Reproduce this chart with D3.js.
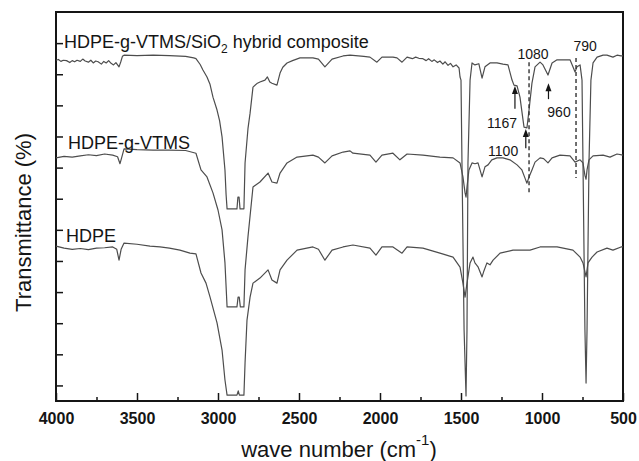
<!DOCTYPE html>
<html>
<head>
<meta charset="utf-8">
<script src="https://cdn.jsdelivr.net/npm/d3@7/dist/d3.min.js"></script>
<style>
  body { margin: 0; background: #fff; }
  svg { display: block; font-family: 'Liberation Sans', Arial, sans-serif; }
</style>
</head>
<body>
<div id="chart"></div>
<script>
'use strict';

var xTicks = [4000, 3500, 3000, 2500, 2000, 1500, 1000, 500];
var xMinorTicks = [3750, 3250, 2750, 2250, 1750, 1250, 750];
var yTicks = [4, 12, 20, 28, 36, 44, 52, 60, 68, 76, 84, 92];

// [wave number, transmittance]
var composite = [
  [4000, 87.6], [3985, 87.8], [3970, 87.3], [3955, 87.6], [3935, 87.5], [3915, 87.0],
  [3900, 87.5], [3885, 87.2], [3870, 87.6], [3850, 87.3], [3835, 87.9], [3820, 87.4],
  [3800, 87.1], [3785, 87.6], [3770, 86.9], [3755, 87.4], [3740, 87.2], [3720, 86.6],
  [3705, 87.3], [3690, 86.9], [3675, 87.5], [3660, 86.8], [3645, 86.4], [3630, 87.0],
  [3611, 85.9], [3600, 87.2], [3590, 88.6], [3580, 88.9],
  [3500, 88.8], [3400, 88.9], [3300, 88.8], [3200, 88.6], [3150, 88.2], [3136, 88.0],
  [3110, 86.5], [3093, 85.1], [3068, 83.3], [3050, 81.5], [3031, 78.1], [3006, 74.8],
  [2990, 72.0], [2975, 67.9], [2957, 59.4], [2950, 53.0], [2944, 49.4], [2883, 49.4],
  [2877, 52.4], [2870, 52.4], [2864, 49.4], [2840, 49.4], [2833, 61.2], [2815, 70.0],
  [2802, 74.0], [2784, 80.7], [2760, 81.6], [2741, 82.0], [2710, 82.5], [2695, 83.3],
  [2680, 82.0], [2667, 81.7], [2636, 81.2], [2617, 84.3], [2600, 85.8], [2574, 86.9],
  [2540, 87.5], [2494, 88.2], [2414, 88.2], [2380, 87.9], [2340, 85.9], [2296, 87.9],
  [2228, 88.7], [2185, 88.9], [2100, 88.6], [2062, 88.4], [2019, 87.1], [1988, 88.4],
  [1920, 88.4], [1895, 88.2], [1864, 87.1], [1833, 88.4], [1800, 88.0], [1780, 88.4],
  [1760, 88.1], [1735, 88.0], [1715, 87.5], [1700, 88.0], [1680, 87.3], [1665, 87.7],
  [1645, 87.0], [1630, 87.4], [1612, 86.6], [1598, 87.2], [1580, 86.3], [1565, 86.8],
  [1549, 85.9], [1530, 86.4], [1512, 85.6],
  [1506, 83.3], [1500, 82.5], [1494, 61.2], [1481, 18.3], [1469, 1.3], [1463, 18.3],
  [1457, 61.2], [1444, 82.5], [1432, 86.9], [1414, 86.4], [1390, 86.7], [1370, 83.0],
  [1352, 85.9], [1321, 86.9], [1278, 86.9], [1241, 86.6], [1210, 86.4], [1185, 82.5],
  [1173, 81.2], [1154, 81.0], [1136, 78.1], [1117, 72.2], [1111, 70.4], [1093, 70.2],
  [1080, 74.8], [1062, 81.7], [1043, 85.9], [1012, 87.1], [994, 86.4], [963, 83.8],
  [938, 86.9], [907, 87.7], [870, 87.7], [827, 87.7], [809, 85.9], [796, 84.6],
  [784, 85.9], [765, 86.4], [753, 82.5], [747, 61.2], [735, 18.3], [728, 4.6],
  [722, 18.3], [710, 61.2], [698, 82.5], [685, 86.9], [660, 88.4], [623, 88.9],
  [599, 88.9], [562, 88.4], [537, 88.9], [512, 88.7], [500, 88.7]
];

var grafted = [
  [4000, 62.5], [3950, 62.9], [3900, 62.7], [3850, 63.0], [3800, 63.3], [3750, 63.1],
  [3700, 63.5], [3650, 63.2], [3620, 62.8], [3605, 61.0], [3595, 62.5], [3580, 64.8],
  [3500, 64.6], [3400, 64.5], [3300, 64.5], [3200, 64.4], [3136, 63.7], [3105, 59.4],
  [3068, 57.6], [3031, 53.5], [3000, 49.1], [2975, 44.0], [2957, 35.5], [2944, 24.2],
  [2883, 24.2], [2876, 26.7], [2869, 26.7], [2862, 24.2], [2840, 24.2], [2833, 33.7],
  [2815, 42.2], [2784, 55.0], [2741, 56.3], [2691, 58.6], [2667, 56.3], [2636, 56.0],
  [2617, 58.6], [2574, 61.2], [2512, 62.7], [2414, 63.2], [2380, 62.7], [2340, 61.2],
  [2296, 63.0], [2228, 64.0], [2185, 64.3], [2167, 63.7], [2062, 63.2], [2025, 61.4],
  [1988, 63.2], [1920, 63.7], [1877, 62.0], [1833, 63.5], [1735, 63.2], [1630, 62.7],
  [1549, 62.5], [1506, 61.2], [1488, 57.6], [1475, 53.5], [1469, 52.4], [1463, 55.0],
  [1451, 59.4], [1432, 61.2], [1414, 61.0], [1395, 61.2], [1370, 57.6], [1352, 60.2],
  [1333, 60.7], [1310, 62.0], [1278, 62.5], [1241, 62.5], [1198, 62.0], [1154, 60.7],
  [1124, 59.4], [1105, 57.3], [1093, 56.0], [1080, 57.6], [1062, 59.4], [1043, 61.4],
  [1012, 62.5], [990, 62.3], [963, 61.2], [938, 62.5], [889, 63.2], [827, 63.0],
  [796, 61.4], [765, 62.0], [747, 61.2], [735, 58.0], [728, 57.0], [722, 59.4],
  [710, 62.0], [685, 63.0], [623, 63.2], [580, 62.7], [537, 63.5], [500, 63.2]
];

var hdpe = [
  [4000, 39.8], [3950, 39.3], [3900, 39.0], [3850, 39.2], [3800, 38.9], [3750, 39.3],
  [3700, 39.4], [3650, 39.6], [3625, 39.0], [3611, 36.2], [3598, 39.0], [3580, 40.6],
  [3500, 40.3], [3420, 39.8], [3358, 39.6], [3300, 39.3], [3235, 38.8], [3173, 38.0],
  [3136, 37.8], [3105, 32.9], [3074, 30.3], [3049, 26.7], [3006, 20.1], [2975, 13.1],
  [2957, 5.4], [2944, 1.5], [2883, 1.5], [2875, 2.6], [2868, 1.5], [2840, 1.5],
  [2833, 9.8], [2821, 20.8], [2802, 26.7], [2784, 30.3], [2741, 31.6], [2691, 33.7],
  [2667, 31.1], [2636, 30.3], [2617, 33.7], [2574, 36.2], [2512, 38.8], [2414, 39.6],
  [2380, 39.0], [2340, 36.2], [2296, 38.8], [2228, 39.6], [2167, 40.1], [2062, 39.3],
  [2025, 37.5], [1988, 39.6], [1920, 39.6], [1864, 38.0], [1833, 39.6], [1735, 39.3],
  [1630, 38.0], [1549, 37.0], [1506, 34.4], [1488, 30.3], [1475, 26.7], [1463, 30.3],
  [1444, 35.5], [1426, 37.0], [1414, 35.5], [1395, 34.5], [1370, 31.9], [1358, 33.5],
  [1340, 35.5], [1321, 35.0], [1302, 36.2], [1259, 38.0], [1179, 38.8], [1074, 38.8],
  [1012, 39.6], [907, 39.6], [809, 38.8], [765, 37.0], [747, 35.5], [728, 31.9],
  [716, 35.5], [691, 37.0], [660, 38.3], [599, 39.3], [562, 38.8], [512, 39.6],
  [500, 39.6]
];

// dashed reference lines: [wave number, top, bottom]
var guides = [[1080, 87.1, 53.5], [790, 88.2, 57.3]];
// arrows: [wave number, tip, tail]
var arrows = [[1167, 81.0, 75.1], [1100, 69.9, 65.0], [960, 81.7, 77.6]];
// peak labels: [text, wave number, transmittance]
var peakLabels = [['1080', 1055, 87.9], ['790', 734, 90.0], ['1167', 1247, 70.2],
  ['1100', 1240, 63.0], ['960', 895, 73.0]];

var width = 639, height = 461;
var margin = {top: 12, right: 16, bottom: 60, left: 56};
var plotW = width - margin.left - margin.right;
var plotH = height - margin.top - margin.bottom;

var x = d3.scaleLinear().domain([4000, 500]).range([margin.left, margin.left + plotW]);
var y = d3.scaleLinear().domain([0, 100]).range([margin.top + plotH, margin.top]);

var svg = d3.select('#chart').append('svg')
    .attr('width', width)
    .attr('height', height);

var ink = '#151515';

var xAxis = svg.append('g')
    .attr('transform', 'translate(0,' + (margin.top + plotH) + ')')
    .call(d3.axisBottom(x).tickValues(xTicks).tickSize(-8).tickPadding(12).tickFormat(d3.format('d')));
xAxis.select('.domain').remove();
xAxis.selectAll('line').attr('stroke', ink).attr('stroke-width', 1.5);
xAxis.selectAll('text')
    .attr('fill', ink)
    .style('font-size', '16px')
    .style('font-weight', 'bold')
    .style('font-family', "'Liberation Sans', Arial, sans-serif");

var xMinor = svg.append('g')
    .attr('transform', 'translate(0,' + (margin.top + plotH) + ')')
    .call(d3.axisBottom(x).tickValues(xMinorTicks).tickSize(-4).tickFormat(''));
xMinor.select('.domain').remove();
xMinor.selectAll('line').attr('stroke', ink).attr('stroke-width', 1.5);

var yAxis = svg.append('g')
    .attr('transform', 'translate(' + margin.left + ',0)')
    .call(d3.axisLeft(y).tickValues(yTicks).tickSize(-7).tickFormat(''));
yAxis.select('.domain').remove();
yAxis.selectAll('line').attr('stroke', ink).attr('stroke-width', 1.5);

svg.append('rect')
    .attr('x', margin.left)
    .attr('y', margin.top)
    .attr('width', plotW)
    .attr('height', plotH)
    .attr('fill', 'none')
    .attr('stroke', ink)
    .attr('stroke-width', 2);

var line = d3.line()
    .x(function(d){ return x(d[0]); })
    .y(function(d){ return y(d[1]); });

svg.selectAll('path.trace')
    .data([composite, grafted, hdpe])
  .enter().append('path')
    .attr('class', 'trace')
    .attr('d', line)
    .attr('fill', 'none')
    .attr('stroke', '#4d4d4d')
    .attr('stroke-width', 1.2)
    .attr('stroke-linejoin', 'round');

// trace names
var names = svg.append('g')
    .attr('fill', ink)
    .style('font-size', '18px');

var compLabel = names.append('text').attr('x', 64).attr('y', 48);
compLabel.append('tspan').text('HDPE-g-VTMS/SiO');
compLabel.append('tspan').attr('dy', 5).style('font-size', '12px').text('2');
compLabel.append('tspan').attr('dy', -5).text(' hybrid composite');

names.append('text').attr('x', 68).attr('y', 149).text('HDPE-g-VTMS');
names.append('text').attr('x', 66).attr('y', 242).text('HDPE');

svg.selectAll('line.guide')
    .data(guides)
  .enter().append('line')
    .attr('class', 'guide')
    .attr('x1', function(d){ return x(d[0]); })
    .attr('x2', function(d){ return x(d[0]); })
    .attr('y1', function(d){ return y(d[1]); })
    .attr('y2', function(d){ return y(d[2]); })
    .attr('stroke', '#333')
    .attr('stroke-width', 1.4)
    .attr('stroke-dasharray', '4,3');

var arrow = svg.selectAll('g.arrow')
    .data(arrows)
  .enter().append('g')
    .attr('class', 'arrow');
arrow.append('line')
    .attr('x1', function(d){ return x(d[0]); })
    .attr('x2', function(d){ return x(d[0]); })
    .attr('y1', function(d){ return y(d[1]) + 5; })
    .attr('y2', function(d){ return y(d[2]); })
    .attr('stroke', ink)
    .attr('stroke-width', 1.2);
arrow.append('path')
    .attr('d', function(d){
      var tx = x(d[0]), ty = y(d[1]);
      return 'M' + tx + ',' + ty + 'L' + (tx - 3) + ',' + (ty + 8) + 'L' + (tx + 3) + ',' + (ty + 8) + 'Z';
    })
    .attr('fill', ink);

svg.selectAll('text.peak')
    .data(peakLabels)
  .enter().append('text')
    .attr('class', 'peak')
    .attr('x', function(d){ return x(d[1]); })
    .attr('y', function(d){ return y(d[2]); })
    .attr('text-anchor', 'middle')
    .attr('fill', ink)
    .style('font-size', '14px')
    .text(function(d){ return d[0]; });

// axis titles
var xTitle = svg.append('text')
    .attr('x', 339)
    .attr('y', 457)
    .attr('text-anchor', 'middle')
    .attr('fill', ink)
    .style('font-size', '22px');
xTitle.append('tspan').text('wave number (cm');
xTitle.append('tspan').attr('dy', -12).style('font-size', '15px').text('-1');
xTitle.append('tspan').attr('dy', 12).text(')');

svg.append('text')
    .attr('transform', 'translate(31,' + (margin.top + plotH / 2 + 16) + ') rotate(-90)')
    .attr('text-anchor', 'middle')
    .attr('fill', ink)
    .style('font-size', '22px')
    .text('Transmittance (%)');
</script>
</body>
</html>
